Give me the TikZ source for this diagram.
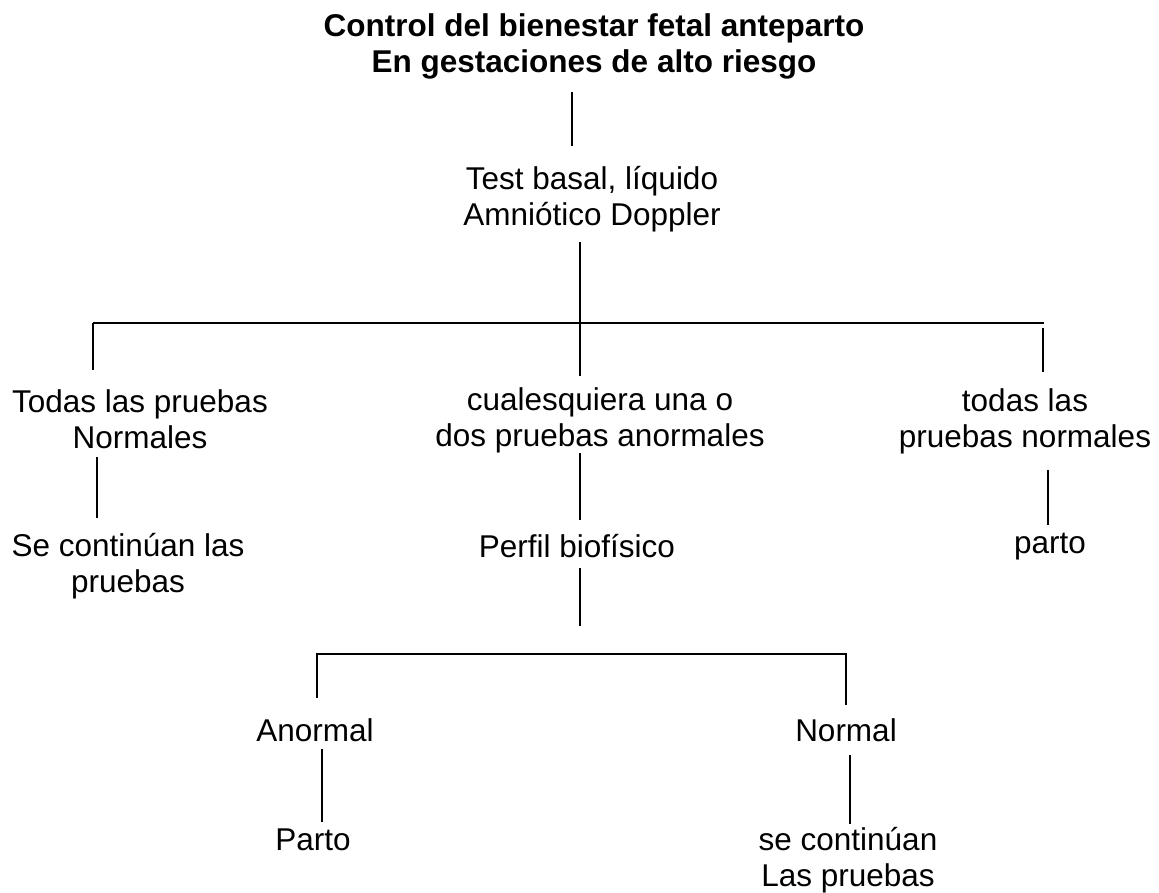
\documentclass[tikz,border=0pt]{standalone}
\usepackage{fontspec}
\setmainfont{Liberation Sans}
\tikzset{
  txt/.style={align=center, inner sep=0pt, anchor=base, font=\fontsize{31.5}{36}\selectfont},
  ttl/.style={align=center, inner sep=0pt, anchor=base, font=\fontsize{31.5}{36}\selectfont\bfseries},
  ln/.style={line width=1.9pt, black}
}
\begin{document}
\begin{tikzpicture}[x=1pt,y=-1pt]
\useasboundingbox[fill=white] (0,0) rectangle (1159,893);
% nodes (placed at the baseline of their last line)
\node[ttl] (title) at (594,73) {Control del bienestar fetal anteparto\\En gestaciones de alto riesgo};
\node[txt] (test) at (592,226) {Test basal, líquido\\Amniótico Doppler};
\node[txt] (n1) at (140,448) {Todas las pruebas\\Normales};
\node[txt] (n2) at (600,446) {cualesquiera una o\\dos pruebas anormales};
\node[txt] (n3) at (1025,447) {todas las\\pruebas normales};
\node[txt] (c1) at (128,592) {Se continúan las\\pruebas};
\node[txt] (perfil) at (577,557) {Perfil biofísico};
\node[txt] (parto1) at (1050,553) {parto};
\node[txt] (anormal) at (315,741) {Anormal};
\node[txt] (normal) at (846,741) {Normal};
\node[txt] (parto2) at (313,850) {Parto};
\node[txt] (c2) at (848,886) {se continúan\\Las pruebas};
% junction / end coordinates
\coordinate (t0) at (572,92);
\coordinate (t1) at (572,146);
\coordinate (b0) at (580,242);
\coordinate (b1) at (580,376);
\coordinate (busL) at (93,323);
\coordinate (busR) at (1044,323);
\coordinate (l1) at (93,370);
\coordinate (r0) at (1043,328);
\coordinate (r1) at (1043,372);
\coordinate (a0) at (97,457);
\coordinate (a1) at (97,518);
\coordinate (m0) at (580,453);
\coordinate (m1) at (580,520);
\coordinate (q0) at (1048,470);
\coordinate (q1) at (1048,525);
\coordinate (p0) at (580,568);
\coordinate (p1) at (580,626);
\coordinate (bus2L) at (317,654);
\coordinate (bus2R) at (846,654);
\coordinate (s1) at (317,698);
\coordinate (s2) at (846,705);
\coordinate (u0) at (322,749);
\coordinate (u1) at (322,822);
\coordinate (v0) at (850,755);
\coordinate (v1) at (850,824);
% connectors
\draw[ln] (t0) -- (t1);
\draw[ln] (b0) -- (b1);
\draw[ln] (busL) -- (busR);
\draw[ln] (busL) -- (l1);
\draw[ln] (r0) -- (r1);
\draw[ln] (a0) -- (a1);
\draw[ln] (m0) -- (m1);
\draw[ln] (q0) -- (q1);
\draw[ln] (p0) -- (p1);
\draw[ln] (s1) -- (bus2L) -- (bus2R) -- (s2);
\draw[ln] (u0) -- (u1);
\draw[ln] (v0) -- (v1);
\end{tikzpicture}
\end{document}
